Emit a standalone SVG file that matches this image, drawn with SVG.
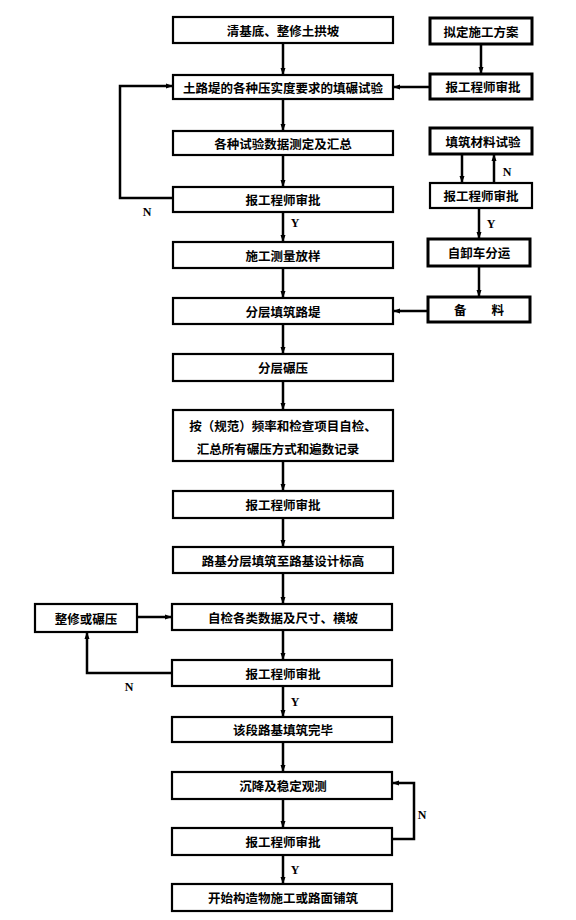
<svg xmlns="http://www.w3.org/2000/svg" width="576" height="920" viewBox="0 0 576 920">
<style>
.box{fill:#fff;stroke:#000;stroke-width:2.2}
.t{font-family:"Noto Sans CJK SC","Noto Sans CJK JP",sans-serif;font-size:12.5px;font-weight:bold;text-anchor:middle;dominant-baseline:central;fill:#000}
.yn{font-family:"Liberation Serif",serif;font-size:12px;font-weight:bold;text-anchor:middle;dominant-baseline:central;fill:#000}
.c{fill:none;stroke:#000;stroke-width:2.5;marker-end:url(#a)}
</style>
<defs>
<marker id="a" markerWidth="8" markerHeight="8" refX="7" refY="4" orient="auto" markerUnits="userSpaceOnUse">
<path d="M0,1.5 L7,4 L0,6.5 Z" fill="#000"/>
</marker>
</defs>
<g id="connectors">
<path class="c" d="M283,43 V75"/>
<path class="c" d="M283,99 V131"/>
<path class="c" d="M283,155 V187"/>
<path class="c" d="M283,212 V242"/>
<path class="c" d="M283,268 V298"/>
<path class="c" d="M283,324 V354"/>
<path class="c" d="M283,381 V410"/>
<path class="c" d="M283,461 V491"/>
<path class="c" d="M283,518 V547"/>
<path class="c" d="M283,573 V604"/>
<path class="c" d="M283,630 V660"/>
<path class="c" d="M283,686 V717"/>
<path class="c" d="M283,742 V772"/>
<path class="c" d="M283,799 V828"/>
<path class="c" d="M283,855 V884"/>
<path class="c" d="M173,198 H120 V86 H173"/>
<path class="c" d="M430,87 H393"/>
<path class="c" d="M428,311 H393"/>
<path class="c" d="M481,44 V74"/>
<path class="c" d="M462,154 V183"/>
<path class="c" d="M494,183 V154"/>
<path class="c" d="M479,208 V239"/>
<path class="c" d="M479,266 V297"/>
<path class="c" d="M172,673 H87 V632"/>
<path class="c" d="M137,617 H172"/>
<path class="c" d="M392,839 H414 V783 H392"/>
</g>
<g id="n1"><rect class="box" x="173" y="17" width="220" height="26"/><text class="t" x="283" y="30">清基底、整修土拱坡</text></g>
<g id="n2"><rect class="box" x="173" y="75" width="220" height="24"/><text class="t" x="283" y="87">土路堤的各种压实度要求的填碾试验</text></g>
<g id="n3"><rect class="box" x="173" y="131" width="220" height="24"/><text class="t" x="283" y="143">各种试验数据测定及汇总</text></g>
<g id="n4"><rect class="box" x="173" y="187" width="220" height="25"/><text class="t" x="283" y="199.5">报工程师审批</text></g>
<g id="n5"><rect class="box" x="173" y="242" width="220" height="26"/><text class="t" x="283" y="255">施工测量放样</text></g>
<g id="n6"><rect class="box" x="173" y="298" width="220" height="26"/><text class="t" x="283" y="311">分层填筑路堤</text></g>
<g id="n7"><rect class="box" x="173" y="354" width="220" height="27"/><text class="t" x="283" y="367.5">分层碾压</text></g>
<g id="n8"><rect class="box" x="173" y="410" width="220" height="51"/><text class="t" x="283" y="425">按（规范）频率和检查项目自检、</text><text class="t" x="278" y="448">汇总所有碾压方式和遍数记录</text></g>
<g id="n9"><rect class="box" x="173" y="491" width="220" height="27"/><text class="t" x="283" y="504.5">报工程师审批</text></g>
<g id="n10"><rect class="box" x="173" y="547" width="220" height="26"/><text class="t" x="283" y="560">路基分层填筑至路基设计标高</text></g>
<g id="n11"><rect class="box" x="172" y="604" width="220" height="26"/><text class="t" x="283" y="617">自检各类数据及尺寸、横坡</text></g>
<g id="n12"><rect class="box" x="172" y="660" width="220" height="26"/><text class="t" x="283" y="673">报工程师审批</text></g>
<g id="n13"><rect class="box" x="172" y="717" width="220" height="25"/><text class="t" x="283" y="729.5">该段路基填筑完毕</text></g>
<g id="n14"><rect class="box" x="172" y="772" width="220" height="27"/><text class="t" x="283" y="785.5">沉降及稳定观测</text></g>
<g id="n15"><rect class="box" x="172" y="828" width="220" height="27"/><text class="t" x="283" y="841.5">报工程师审批</text></g>
<g id="n16"><rect class="box" x="172" y="884" width="220" height="27"/><text class="t" x="283" y="897.5">开始构造物施工或路面铺筑</text></g>
<g id="n17"><rect class="box" x="35" y="604" width="102" height="28"/><text class="t" x="86" y="618">整修或碾压</text></g>
<g id="r1"><rect class="box" x="430" y="18" width="102" height="26" style="stroke-width:3"/><text class="t" x="481" y="31">拟定施工方案</text></g>
<g id="r2"><rect class="box" x="430" y="74" width="102" height="25" style="stroke-width:3"/><text class="t" x="483" y="86.5">报工程师审批</text></g>
<g id="r3"><rect class="box" x="430" y="128" width="102" height="26" style="stroke-width:3"/><text class="t" x="483" y="141">填筑材料试验</text></g>
<g id="r4"><rect class="box" x="430" y="183" width="102" height="25"/><text class="t" x="481" y="195.5">报工程师审批</text></g>
<g id="r5"><rect class="box" x="428" y="239" width="102" height="27" style="stroke-width:3"/><text class="t" x="479" y="252.5">自卸车分运</text></g>
<g id="r6"><rect class="box" x="428" y="297" width="102" height="25" style="stroke-width:3"/><text class="t" x="479" y="309.5">备　　料</text></g>
<g id="labels">
<text class="yn" x="147" y="212">N</text>
<text class="yn" x="295" y="223">Y</text>
<text class="yn" x="507" y="172">N</text>
<text class="yn" x="491" y="224">Y</text>
<text class="yn" x="129" y="687">N</text>
<text class="yn" x="295" y="702">Y</text>
<text class="yn" x="422" y="815">N</text>
<text class="yn" x="295" y="870">Y</text>
</g>
</svg>
